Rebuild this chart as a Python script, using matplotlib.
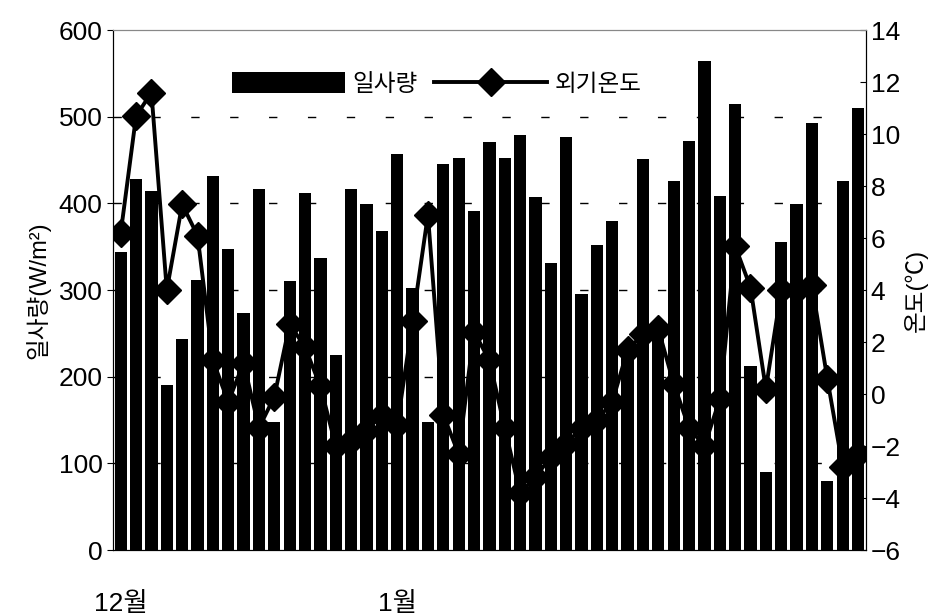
import numpy as np
import matplotlib
matplotlib.use("Agg")
import matplotlib.pyplot as plt

plt.rcParams['font.family'] = ['Liberation Sans Narrow', 'Liberation Sans', 'Noto Sans CJK KR', 'DejaVu Sans']

# daily solar radiation (W/m2), Dec -> Jan
radiation = [344, 428, 414, 191, 244, 312, 432, 347, 274, 417,
             148, 310, 412, 337, 225, 417, 399, 368, 457, 302,
             148, 445, 453, 391, 471, 453, 479, 407, 331, 477,
             295, 352, 380, 235, 451, 245, 426, 472, 564, 409,
             515, 212, 90, 356, 399, 493, 80, 426, 510]
# outside temperature (C)
temperature = [6.2, 10.7, 11.6, 4.0, 7.3, 6.1, 1.3, -0.3, 1.2, -1.3,
               -0.1, 2.7, 1.8, 0.3, -2.0, -1.8, -1.4, -0.8, -1.2, 2.8,
               6.9, -0.8, -2.3, 2.4, 1.3, -1.3, -3.8, -3.2, -2.4, -1.9,
               -1.3, -1.0, -0.3, 1.7, 2.3, 2.5, 0.4, -1.3, -2.0, -0.2,
               5.7, 4.1, 0.2, 4.0, 4.0, 4.2, 0.6, -2.8, -2.3]
month_pos = [0, 18]
month_labels = ["12월", "1월"]

days = np.arange(len(radiation))

fig = plt.figure(figsize=(9.42, 6.16), dpi=100)
ax = fig.add_axes([0.12, 0.107, 0.799, 0.844])

ax.bar(days, radiation, width=0.8, color="black", label="일사량", zorder=2)
ax.set_ylim(0, 600)
ax.set_xlim(-0.5, len(radiation) - 0.5)
ax.set_yticks(range(0, 601, 100))
for v in range(100, 600, 100):
    ax.axhline(v, color="black", lw=1, dashes=(6, 22), zorder=1)
ax.set_xticks(month_pos)
ax.set_xticklabels(month_labels, fontsize=19)
ax.tick_params(axis="x", length=0, pad=30)
ax.tick_params(axis="y", labelsize=19, direction="out", length=4)
ax.set_ylabel("일사량(W/m²)", fontsize=17, labelpad=6)

ax2 = ax.twinx()
ax2.plot(days, temperature, color="black", lw=2.8, marker="D", markersize=14,
         label="외기온도", zorder=3)
ax2.set_ylim(-6, 14)
ax2.set_yticks(range(-6, 15, 2))
ax2.tick_params(axis="y", labelsize=19, direction="in", length=4)
ax2.set_ylabel("온도(℃)", fontsize=17, labelpad=2)

for a in (ax, ax2):
    a.spines["top"].set_color("#888888")

h1, l1 = ax.get_legend_handles_labels()
h2, l2 = ax2.get_legend_handles_labels()
ax.legend(h1 + h2, l1 + l2, loc="upper center", bbox_to_anchor=(0.43, 0.96),
          ncol=2, frameon=False, fontsize=17, handlelength=4.8,
          handleheight=1.0, columnspacing=0.7, handletextpad=0.3)

fig.savefig("out.png", dpi=100)
